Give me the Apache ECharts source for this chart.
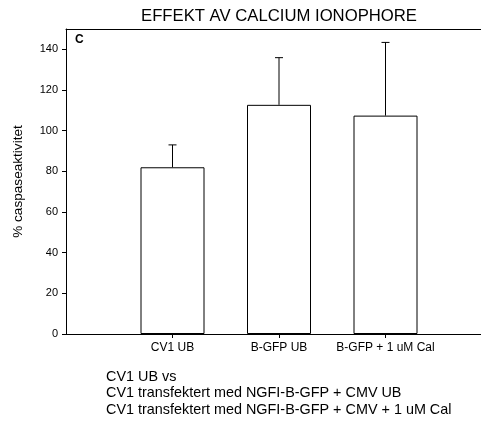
<!DOCTYPE html>
<html>
<head>
<meta charset="utf-8">
<script src="https://cdn.jsdelivr.net/npm/echarts@6/dist/echarts.min.js"></script>
<style>
html, body { margin: 0; padding: 0; background: #fff; }
#chart { width: 481px; height: 421px; }
</style>
</head>
<body>
<div id="chart"></div>
<script>
var categories = ['CV1 UB', 'B-GFP UB', 'B-GFP + 1 uM Cal'];
var means = [82, 112.7, 107.4];
var errors = [11, 23.2, 36];
var yTicks = [0, 20, 40, 60, 80, 100, 120, 140];

var barData = means.map(function (v, i) { return [i + 1, v]; });
var errData = means.map(function (v, i) { return [i + 1, v, v + errors[i]]; });

var font = 'Liberation Sans, Arial, sans-serif';

var option = {
    animation: false,
    backgroundColor: '#fff',
    grid: {
        left: 66, top: 29, right: 0, bottom: 87
    },
    graphic: [
        {
            type: 'text', x: 279, y: 8,
            style: {text: 'EFFEKT AV CALCIUM IONOPHORE', font: '16.7px ' + font, fill: '#000', align: 'center'}
        },
        {
            type: 'text', left: 75, top: 34,
            style: {text: 'C', font: 'bold 12px ' + font, fill: '#000'}
        },
        {
            type: 'text', left: 106, top: 369,
            style: {
                text: 'CV1 UB vs\nCV1 transfektert med NGFI-B-GFP + CMV UB\nCV1 transfektert med NGFI-B-GFP + CMV + 1 uM Cal',
                font: '14.4px ' + font, lineHeight: 16.3, fill: '#000'
            }
        }
    ],
    xAxis: [
        {
            type: 'value',
            min: 0,
            max: 415 / 106.5,
            splitLine: {show: false},
            axisLine: {show: true, onZero: false, lineStyle: {color: '#000', width: 1}},
            axisTick: {show: true, customValues: [1, 2, 3], length: 4, lineStyle: {color: '#000'}},
            axisLabel: {
                customValues: [1, 2, 3],
                formatter: function (v) { return categories[Math.round(v) - 1] || ''; },
                fontFamily: font, fontSize: 12, color: '#000', margin: 8
            }
        },
        {
            type: 'value',
            position: 'top',
            min: 0,
            max: 415 / 106.5,
            splitLine: {show: false},
            axisLine: {show: true, onZero: false, lineStyle: {color: '#000', width: 1}},
            axisTick: {show: false},
            axisLabel: {show: false}
        }
    ],
    yAxis: {
        type: 'value',
        min: 0,
        max: 150,
        name: '% caspaseaktivitet',
        nameLocation: 'middle',
        nameGap: 41,
        nameTextStyle: {fontFamily: font, fontSize: 13.6, color: '#000'},
        splitLine: {show: false},
        axisLine: {show: true, lineStyle: {color: '#000', width: 1}},
        axisTick: {show: true, customValues: yTicks, length: 4, lineStyle: {color: '#000'}},
        axisLabel: {
            customValues: yTicks,
            fontFamily: font, fontSize: 11, color: '#000', margin: 8
        }
    },
    series: [
        {
            type: 'bar',
            data: barData,
            barWidth: 64,
            itemStyle: {color: '#fff', borderColor: '#000', borderWidth: 1},
            silent: true
        },
        {
            type: 'custom',
            data: errData,
            silent: true,
            z: 3,
            renderItem: function (params, api) {
                var x = api.value(0);
                var base = api.coord([x, api.value(1)]);
                var top = api.coord([x, api.value(2)]);
                var half = 4;
                return {
                    type: 'group',
                    children: [
                        {type: 'line', shape: {x1: base[0], y1: base[1], x2: top[0], y2: top[1]},
                         style: {stroke: '#000', lineWidth: 1}},
                        {type: 'line', shape: {x1: top[0] - half, y1: top[1], x2: top[0] + half, y2: top[1]},
                         style: {stroke: '#000', lineWidth: 1}}
                    ]
                };
            }
        }
    ]
};

var myChart = echarts.init(document.getElementById('chart'));
myChart.setOption(option);
</script>
</body>
</html>
